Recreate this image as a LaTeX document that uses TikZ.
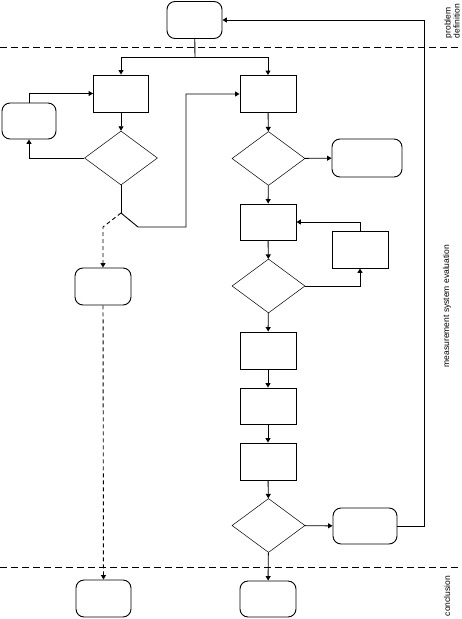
\documentclass[tikz,border=0pt]{standalone}
\usepackage{fontspec}
\setmainfont{Liberation Sans}
\usetikzlibrary{arrows.meta, positioning, shapes.geometric}

\begin{document}
\begin{tikzpicture}[
      x=1pt, y=-1pt,
      stepbox/.style={draw, line width=0.9pt, minimum width=56pt,
        minimum height=37pt, inner sep=0pt},
      endbox/.style={draw, line width=0.9pt, rounded corners=8pt,
        minimum width=55pt, minimum height=37pt, inner sep=0pt},
      check/.style={draw, diamond, line width=0.5pt, minimum width=73pt,
        minimum height=54pt, inner sep=0pt},
      phase/.style={rotate=90, align=left,
        font=\fontsize{8.5}{7}\selectfont},
      border/.style={dash pattern=on 7pt off 4pt, line width=0.7pt},
      flow/.style={->, line width=0.9pt},
      >={Triangle[width=5pt, length=4.5pt]}
    ]
      \useasboundingbox (0,0) rectangle (462,619);

      % phase borders
      \draw[border] (0,47) -- (462,47);
      \draw[border] (0,567) -- (462,567);
      \node[phase] (lbldef) at (452,21) {problem\\definition};
      \node[phase] (lblmeas) at (447,306) {measurement system evaluation};
      \node[phase] (lblconc) at (447,596) {conclusion};

      % left branch
      \node[endbox] (problem) at (194.5,20) {};
      \node[stepbox, minimum width=55pt] (leftstep) at (121,93.5) {};
      \node[endbox, minimum width=54pt, minimum height=36pt] (retry)
        at (29,121) {};
      \node[check] (leftcheck) at (121,158) {};
      \node[endbox, minimum width=56pt] (altstep) at (103,286.5) {};
      \node[endbox] (altend) at (103.5,598.5) {};

      % main column
      \node[stepbox] (rightstep) at (268,94) {};
      \node[check] (rightcheck) at (268.5,158.5) {};
      \node[endbox, minimum width=70pt, minimum height=38pt] (exit)
        at (367,158) {};
      \node[stepbox, minimum height=36pt] (measure) at (268,222) {};
      \node[stepbox] (adjust) at (360,249.5) {};
      \node[check] (meascheck) at (268.5,286) {};
      \node[stepbox] (stepone) at (268,350.5) {};
      \node[stepbox, minimum height=36pt] (steptwo) at (268,406) {};
      \node[stepbox] (stepthree) at (268,461.5) {};
      \node[check] (finalcheck) at (268.5,525.5) {};
      \node[endbox, minimum width=64pt, minimum height=36pt] (feedback)
        at (365,526) {};
      \node[endbox, minimum width=56pt, minimum height=36pt] (mainend)
        at (268,599) {};

      \coordinate (fork) at (195,57);
      \coordinate (branch) at (121,213);
      \coordinate (kinkright) at (138,227);
      \coordinate (jog) at (186,227);
      \coordinate (kinkleft) at (103,227);
      \coordinate (turn) at (424,526);

      \draw[line width=0.9pt] (problem) -- (fork);
      \draw[flow] (fork) -| (leftstep);
      \draw[flow] (fork) -| (rightstep);
      \draw[flow] (retry.north) |- (leftstep.west);
      \draw[flow] (leftstep) -- (leftcheck);
      \draw[flow] (leftcheck.west) -| (retry.south);
      \draw[line width=0.9pt] (leftcheck.south) -- (branch);
      \draw[flow] (branch) -- (kinkright) -- (jog) |- (rightstep.west);
      \draw[->, line width=0.9pt, dash pattern=on 4pt off 3pt]
        (branch) -- (kinkleft) -- (altstep);
      \draw[->, line width=0.9pt, dash pattern=on 4pt off 3pt]
        (altstep) -- (altend);

      \draw[flow] (rightstep) -- (rightcheck);
      \draw[flow] (rightcheck) -- (exit);
      \draw[flow] (rightcheck) -- (measure);
      \draw[flow] (measure) -- (meascheck);
      \draw[flow] (adjust.north) |- (measure.east);
      \draw[flow] (meascheck.east) -| (adjust.south);
      \draw[flow] (meascheck) -- (stepone);
      \draw[flow] (stepone) -- (steptwo);
      \draw[flow] (steptwo) -- (stepthree);
      \draw[flow] (stepthree) -- (finalcheck);
      \draw[flow] (finalcheck) -- (feedback);
      \draw[flow] (finalcheck) -- (mainend);
      \draw[flow] (feedback.east) -- (turn) |- (problem.east);
    \end{tikzpicture}
\end{document}
